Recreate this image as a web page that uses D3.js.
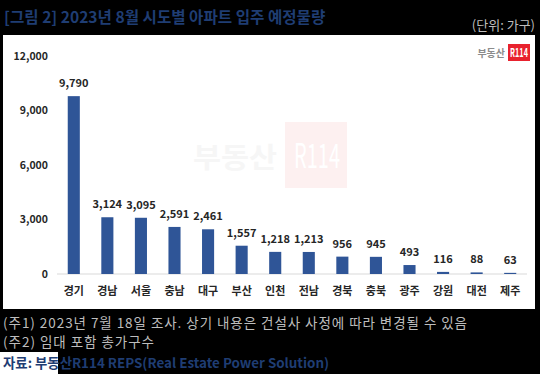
<!DOCTYPE html>
<meta charset="utf-8">
<script src="https://d3js.org/d3.v7.min.js"></script>
<style>
  body { margin: 0; background: #000; }
  svg { display: block; font-family: "Noto Sans CJK KR", sans-serif; }
</style>
<body>
<svg id="chart" width="540" height="374"></svg>
<script>
// 2023년 8월 시도별 아파트 입주 예정물량 (단위: 가구)
var regions = ["경기", "경남", "서울", "충남", "대구", "부산", "인천", "전남", "경북", "충북", "광주", "강원", "대전", "제주"];
var units = [9790, 3124, 3095, 2591, 2461, 1557, 1218, 1213, 956, 945, 493, 116, 88, 63];
var yTicks = [0, 3000, 6000, 9000, 12000];
var notes = ["(주1) 2023년 7월 18일 조사. 상기 내용은 건설사 사정에 따라 변경될 수 있음", "(주2) 임대 포함 총가구수"];
var noteWidths = [464, 151];

var svg = d3.select("#chart");
var fmt = d3.format(",");

// title
svg.append("text")
  .attr("x", 4).attr("y", 23)
  .style("font-size", "15.6px").style("font-weight", 700)
  .attr("fill", "#1f3d73")
  .text("[그림 2] 2023년 8월 시도별 아파트 입주 예정물량");

svg.append("text")
  .attr("x", 535).attr("y", 30)
  .attr("text-anchor", "end")
  .style("font-size", "13px")
  .attr("fill", "#bdbdbd")
  .text("(단위: 가구)");

// white chart panel
svg.append("rect")
  .attr("x", 3).attr("y", 35).attr("width", 532).attr("height", 274)
  .attr("fill", "#fff");

// watermark
svg.append("text")
  .attr("x", 193).attr("y", 168)
  .attr("textLength", 84).attr("lengthAdjust", "spacingAndGlyphs")
  .style("font-size", "28px").style("font-weight", 700)
  .attr("fill", "#f6f6f6")
  .text("부동산");
svg.append("rect")
  .attr("x", 285).attr("y", 122).attr("width", 62).attr("height", 66)
  .attr("fill", "#fdf0f0");
svg.append("text")
  .attr("x", 294).attr("y", 168)
  .attr("textLength", 46).attr("lengthAdjust", "spacingAndGlyphs")
  .style("font-size", "34px")
  .attr("fill", "#fff")
  .text("R114");

// logo
svg.append("text")
  .attr("x", 505).attr("y", 57).attr("text-anchor", "end")
  .style("font-size", "10px").style("font-weight", 700)
  .attr("fill", "#8c8c8c")
  .text("부동산");
svg.append("rect")
  .attr("x", 508).attr("y", 44).attr("width", 22).attr("height", 17)
  .attr("fill", "#e8222e");
svg.append("text")
  .attr("x", 510).attr("y", 57)
  .attr("textLength", 18).attr("lengthAdjust", "spacingAndGlyphs")
  .style("font-size", "12px").style("font-weight", 700)
  .attr("fill", "#fff")
  .text("R114");

// scales
var x = d3.scaleBand().domain(regions).range([57, 527]).paddingInner(0.64).paddingOuter(0.32);
var y = d3.scaleLinear().domain([0, 12000]).range([274, 56]);

// y axis labels
var yAxis = svg.append("g")
  .attr("transform", "translate(48,0)")
  .call(d3.axisLeft(y).tickValues(yTicks).tickFormat(fmt).tickSize(0).tickPadding(0));
yAxis.select(".domain").remove();
yAxis.selectAll("text")
  .style("font-family", "'Noto Sans CJK KR', sans-serif")
  .style("font-size", "10.5px").style("font-weight", 700)
  .attr("fill", "#262626");

// baseline
svg.append("line")
  .attr("x1", 57).attr("x2", 527)
  .attr("y1", y(0)).attr("y2", y(0))
  .attr("stroke", "#d9d9d9").attr("stroke-width", 1);

// bars
svg.selectAll(".bar")
  .data(units)
  .join("rect")
  .attr("class", "bar")
  .attr("x", (d, i) => x(regions[i]))
  .attr("width", x.bandwidth())
  .attr("y", d => y(d))
  .attr("height", d => y(0) - y(d))
  .attr("fill", "#2f5597");

// value labels
svg.selectAll(".val")
  .data(units)
  .join("text")
  .attr("class", "val")
  .attr("x", (d, i) => x(regions[i]) + x.bandwidth() / 2)
  .attr("y", d => y(d) - 9)
  .attr("text-anchor", "middle")
  .style("font-size", "11px").style("font-weight", 700)
  .attr("fill", "#262626")
  .text(d => fmt(d));

// category labels
var xAxis = svg.append("g")
  .attr("transform", "translate(0," + y(0) + ")")
  .call(d3.axisBottom(x).tickSize(0).tickPadding(13));
xAxis.select(".domain").remove();
xAxis.selectAll("text")
  .style("font-family", "'Noto Sans CJK KR', sans-serif")
  .style("font-size", "11px").style("font-weight", 700)
  .attr("fill", "#262626");

// notes
svg.selectAll(".note")
  .data(notes)
  .join("text")
  .attr("class", "note")
  .attr("x", 3)
  .attr("y", (d, i) => 328 + i * 19)
  .attr("textLength", (d, i) => noteWidths[i])
  .attr("lengthAdjust", "spacing")
  .style("font-size", "13.5px")
  .attr("fill", "#bdbdbd")
  .text(d => d);

// source
svg.append("rect")
  .attr("x", 0).attr("y", 352).attr("width", 58).attr("height", 22)
  .attr("fill", "#fff");
svg.append("text")
  .attr("x", 3).attr("y", 368)
  .style("font-size", "13.4px").style("font-weight", 700)
  .attr("fill", "#1f3d73")
  .text("자료: 부동산R114 REPS(Real Estate Power Solution)");
</script>
</body>
